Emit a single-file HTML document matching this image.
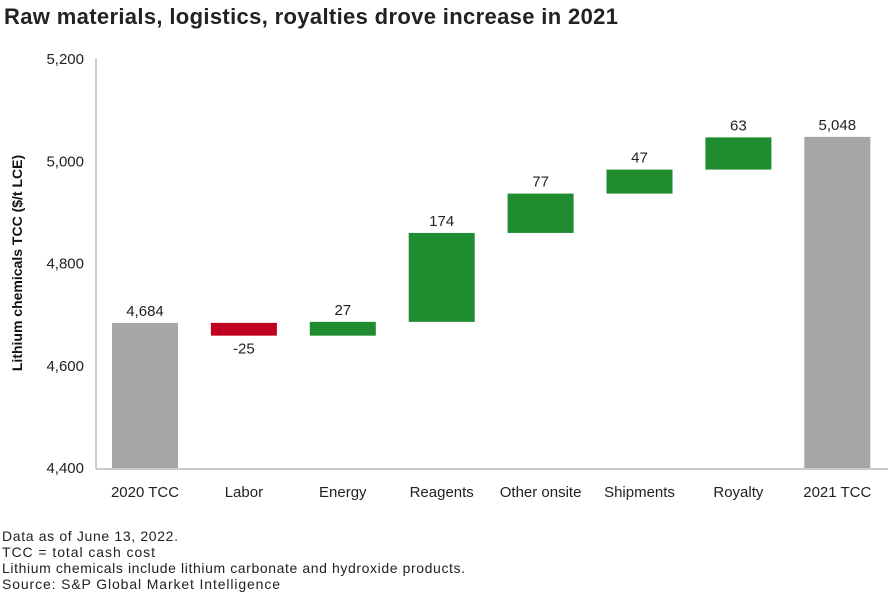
<!DOCTYPE html>
<html><head><meta charset="utf-8"><style>
body{margin:0;background:#fff;font-family:"Liberation Sans",sans-serif;}
</style></head><body>
<svg width="889" height="599" xmlns="http://www.w3.org/2000/svg" font-family="Liberation Sans, sans-serif">
<text x="4" y="24" font-size="22" font-weight="bold" fill="#222" textLength="614">Raw materials, logistics, royalties drove increase in 2021</text>
<text transform="translate(22,263) rotate(-90)" text-anchor="middle" font-size="14" font-weight="bold" fill="#111">Lithium chemicals TCC ($/t LCE)</text>
<g id="yaxis"></g>
<g id="bars"></g>
<line x1="96" y1="469" x2="888" y2="469" stroke="#bbb" stroke-width="1.5"/>
<line x1="96" y1="58" x2="96" y2="469" stroke="#bbb" stroke-width="1.5"/>
<g font-size="14" fill="#222">
<text x="2" y="541" textLength="176">Data as of June 13, 2022.</text>
<text x="2" y="557" textLength="153">TCC = total cash cost</text>
<text x="2" y="573" textLength="463">Lithium chemicals include lithium carbonate and hydroxide products.</text>
<text x="2" y="589" textLength="278">Source: S&amp;P Global Market Intelligence</text>
</g>
</svg>
<script>
const categories=["2020 TCC","Labor","Energy","Reagents","Other onsite","Shipments","Royalty","2021 TCC"];
const values=[4684,-25,27,174,77,47,63,5048];
const isTotal=[true,false,false,false,false,false,false,true];
const yTicks=[4400,4600,4800,5000,5200];
const yTickLabels=["4,400","4,600","4,800","5,000","5,200"];
const NS="http://www.w3.org/2000/svg";
function y(v){return 468-(v-4400)*0.511;}
function xc(i){return 145+i*98.9;}
const ya=document.getElementById('yaxis');
yTicks.forEach((t,i)=>{const e=document.createElementNS(NS,'text');
e.setAttribute('x',84);e.setAttribute('y',y(t)+5);e.setAttribute('text-anchor','end');e.setAttribute('font-size','15');e.setAttribute('fill','#222');
e.textContent=yTickLabels[i];


ya.appendChild(e);});
const g=document.getElementById('bars');
let run=0;
categories.forEach((c,i)=>{
 let lo,hi,col,v=values[i];
 if(isTotal[i]){lo=4400;hi=v;col='#a6a6a6';run=v;}
 else{const s=run;run=s+v;lo=Math.min(s,run);hi=Math.max(s,run);col=v<0?'#c00020':'#1f8c2f';}
 const r=document.createElementNS(NS,'rect');
 r.setAttribute('x',xc(i)-33);r.setAttribute('width',66);r.setAttribute('y',y(hi));r.setAttribute('height',y(lo)-y(hi));r.setAttribute('fill',col);
 
 
 g.appendChild(r);
 const t=document.createElementNS(NS,'text');
 t.setAttribute('x',xc(i));t.setAttribute('text-anchor','middle');t.setAttribute('font-size','15');t.setAttribute('fill','#222');
 t.setAttribute('y',v<0&&!isTotal[i]?y(lo)+18:y(hi)-7);
 t.textContent=isTotal[i]?v.toLocaleString('en-US'):String(v);
 
 
 g.appendChild(t);
 const l=document.createElementNS(NS,'text');
 l.setAttribute('x',xc(i));l.setAttribute('y',497);l.setAttribute('text-anchor','middle');l.setAttribute('font-size','15');l.setAttribute('fill','#222');
 l.textContent=c;
 
 
 g.appendChild(l);
});
</script>
</body></html>
